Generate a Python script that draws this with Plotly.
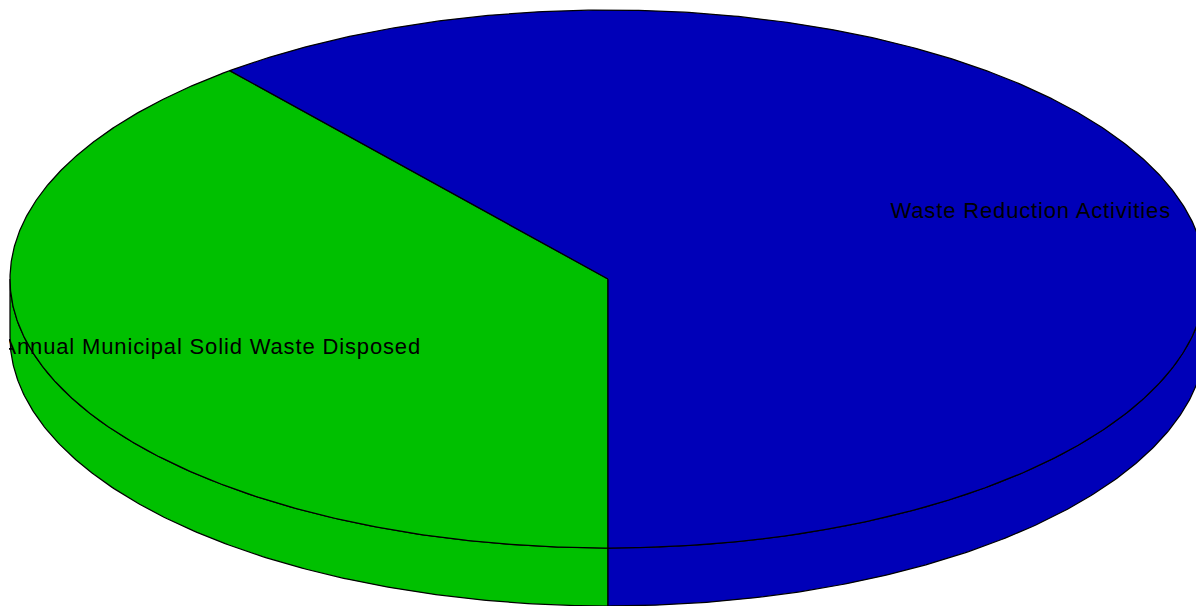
import numpy as np
import plotly.graph_objects as go

# Data
categories = ["Annual Municipal Solid Waste Disposed", "Waste Reduction Activities"]
values = [39.1, 60.9]
slice_colors = ["#00C000", "#0000B8"]

# Pie geometry in pixels of the 1196x606 picture
W, H = 1196, 606
CX, CY, A, B, DEPTH = 608, 279, 598, 269, 58
LEFT = 9
LABEL_RIGHT_X = [421, 1171]
LABEL_Y = [348, 212]
LABEL_SIZE = 22
LABEL_SPACING = "0.85px"


def px(t):
    """Points on the top ellipse; t is clockwise from six o'clock, in degrees."""
    r = np.radians(t)
    return -np.sin(r), -np.cos(r)


fractions = np.array(values, dtype=float) / sum(values)
edges = np.concatenate([[0], np.cumsum(fractions) * 360])
d = DEPTH / B

fig = go.Figure()
line = dict(color="black", width=1.25)


def poly(x, y, color):
    fig.add_trace(go.Scatter(x=x, y=y, mode="lines", fill="toself", fillcolor=color,
                             line=line, hoverinfo="skip", showlegend=False))


# side wall: only the front half of the rim is visible
for i, color in enumerate(slice_colors):
    lo, hi = edges[i], edges[i + 1]
    parts = [(lo, min(hi, 90)), (max(lo, 270), hi)]
    for a, b in parts:
        if b <= a:
            continue
        t = np.linspace(a, b, 200)
        x, y = px(t)
        poly(np.r_[x, x[::-1], x[0]], np.r_[y, y[::-1] - d, y[0]], color)

# top face
for i, color in enumerate(slice_colors):
    t = np.linspace(edges[i], edges[i + 1], 500)
    x, y = px(t)
    poly(np.r_[0, x, 0], np.r_[0, y, 0], color)

# labels
for i, name in enumerate(categories):
    fig.add_trace(go.Scatter(
        x=[(LABEL_RIGHT_X[i] - CX) / A], y=[(CY - LABEL_Y[i]) / B],
        mode="text", text=[name], textposition="middle left",
        textfont=dict(family="Liberation Sans", size=LABEL_SIZE, color="black"),
        cliponaxis=True, hoverinfo="skip", showlegend=False))

fig.update_layout(
    width=W, height=H, autosize=False,
    margin=dict(l=LEFT, r=0, t=0, b=0, pad=0),
    paper_bgcolor="white", plot_bgcolor="white", showlegend=False,
    xaxis=dict(visible=False, range=[(LEFT - CX) / A, (W - CX) / A], fixedrange=True),
    yaxis=dict(visible=False, range=[(CY - H) / B, CY / B], fixedrange=True),
)
fig.write_html("out.html", config={"displayModeBar": False},
               post_script=("document.body.style.margin='0';document.body.style.overflow='hidden';"
                            "document.querySelectorAll('.textpoint text').forEach("
                            "function(e){e.style.letterSpacing='" + LABEL_SPACING + "';});"))
